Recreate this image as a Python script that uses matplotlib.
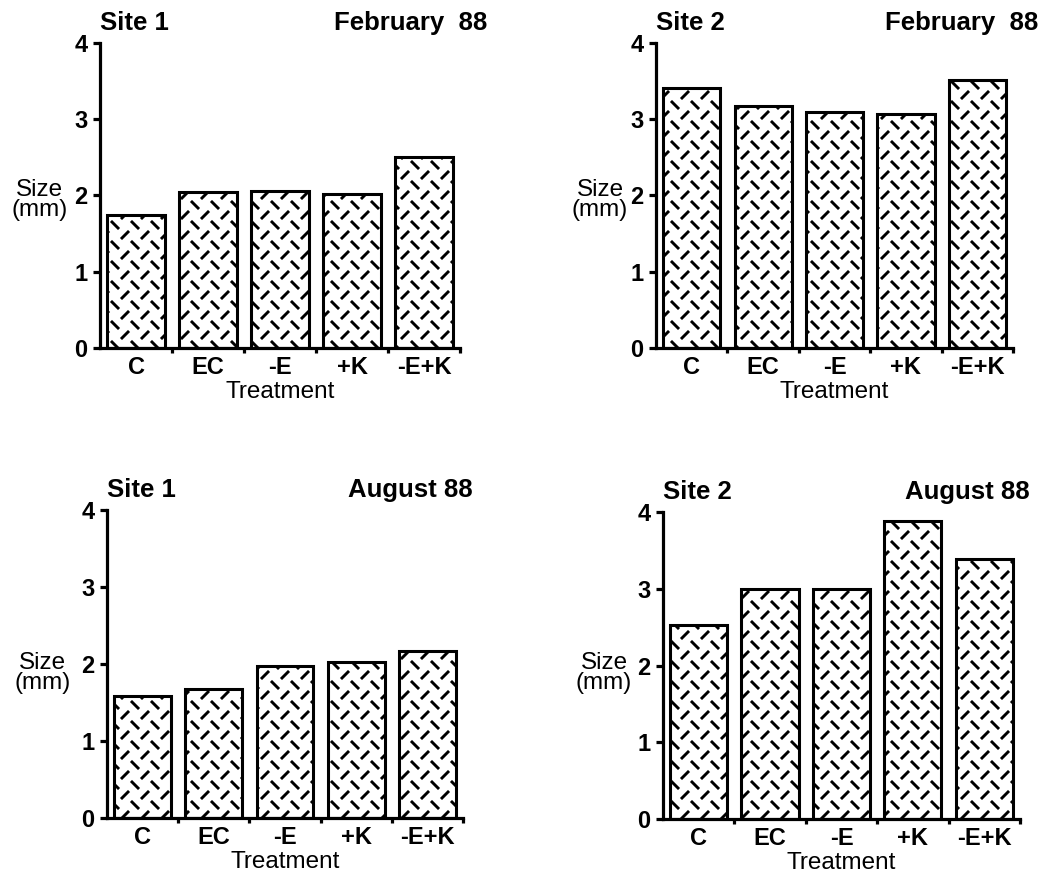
import warnings
import numpy as np
import matplotlib
matplotlib.use("Agg")
import matplotlib.pyplot as plt
import matplotlib.hatch as mhatch
from matplotlib.path import Path

warnings.filterwarnings("ignore")

# data (size in mm)
treatments = ["C", "EC", "-E", "+K", "-E+K"]
site1_feb = [1.74, 2.04, 2.06, 2.02, 2.51]
site2_feb = [3.41, 3.17, 3.10, 3.07, 3.51]
site1_aug = [1.59, 1.67, 1.98, 2.03, 2.17]
site2_aug = [2.53, 3.00, 3.00, 3.88, 3.39]
yticks = [0, 1, 2, 3, 4]


# dashed diagonal crosshatch, like the old MacDraw fill
class DashCross(mhatch.HatchPatternBase):
    def __init__(self, hatch, density):
        self.n = 5 if "d" in hatch else 0
        self.num_vertices = 4 * self.n * self.n

    def set_vertices_and_codes(self, vertices, codes):
        s = 1.0 / self.n
        h = 0.15 * s
        k = 0
        for i in range(self.n):
            for j in range(self.n):
                x0, y0 = (i + 0.25) * s, (j + 0.25) * s
                x1, y1 = (i + 0.75) * s, (j + 0.75) * s
                vertices[k] = (x0 - h, y0 - h)
                vertices[k + 1] = (x0 + h, y0 + h)
                vertices[k + 2] = (x1 - h, y1 + h)
                vertices[k + 3] = (x1 + h, y1 - h)
                k += 4
        codes[0::2] = Path.MOVETO
        codes[1::2] = Path.LINETO


mhatch._hatch_types.append(DashCross)

plt.rcParams["font.family"] = ["Liberation Sans", "DejaVu Sans"]
plt.rcParams["hatch.linewidth"] = 2.1

fig = plt.figure(figsize=(10.46, 8.77), dpi=100)

panels = [
    (site1_feb, "Site 1", "February  88", [0.0956, 0.6032, 0.3442, 0.3478], 1.075, (-0.167, 0.485)),
    (site2_feb, "Site 2", "February  88", [0.6272, 0.6032, 0.3413, 0.3478], 1.07, (-0.157, 0.485)),
    (site1_aug, "Site 1", "August 88", [0.1023, 0.0673, 0.3403, 0.3512], 1.028, (-0.18, 0.47)),
    (site2_aug, "Site 2", "August 88", [0.6338, 0.0660, 0.3413, 0.3500], 1.028, (-0.165, 0.475)),
]

x = np.arange(len(treatments))
for vals, site, month, rect, month_x, ylab in panels:
    ax = fig.add_axes(rect)
    ax.bar(x, vals, width=0.8, color="white", edgecolor="black",
           linewidth=2.2, hatch="d")
    ax.set_xlim(-0.5, 4.5)
    ax.set_ylim(0, 4)
    for side in ["top", "right"]:
        ax.spines[side].set_visible(False)
    for side in ["left", "bottom"]:
        ax.spines[side].set_linewidth(2.3)
    ax.set_yticks(yticks)
    ax.set_yticklabels([str(t) for t in yticks], fontsize=17, fontweight="bold")
    ax.tick_params(axis="y", direction="out", length=5, width=2.3, pad=4)
    ax.set_xticks(x)
    ax.set_xticklabels(treatments, fontsize=17, fontweight="bold")
    ax.tick_params(axis="x", which="major", length=0, pad=6)
    ax.set_xticks(x + 0.5, minor=True)
    ax.tick_params(axis="x", which="minor", direction="out", length=3.5, width=2.3)
    ax.set_xlabel("Treatment", fontsize=17.5, labelpad=1)
    ax.set_ylabel("Size\n(mm)", fontsize=17.5, rotation=0, ha="center", va="center",
                  linespacing=0.9)
    ax.yaxis.set_label_coords(*ylab)
    ax.text(0.0, 1.065, site, transform=ax.transAxes, ha="left", va="center",
            fontsize=18.5, fontweight="bold")
    ax.text(month_x, 1.065, month, transform=ax.transAxes, ha="right", va="center",
            fontsize=18.5, fontweight="bold")

fig.savefig("out.png", dpi=100)
